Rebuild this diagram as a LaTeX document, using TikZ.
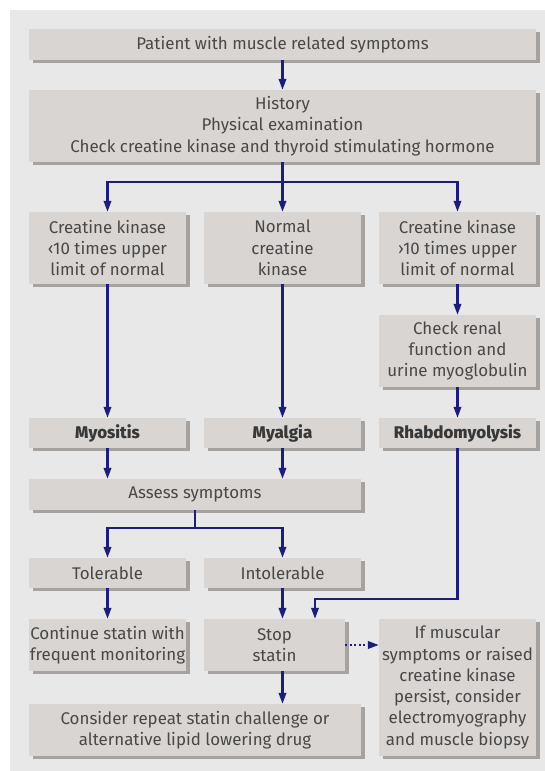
\documentclass[tikz,border=0pt]{standalone}
\usepackage{fontspec}
\setmainfont{Fira Sans}
\IfFontExistsTF{Fira Sans Heavy}{\newfontfamily\heavyfont{Fira Sans Heavy}}{%
  \IfFontExistsTF{Fira Sans ExtraBold}{\newfontfamily\heavyfont{Fira Sans ExtraBold}}{\newcommand\heavyfont{\bfseries}}}
\usetikzlibrary{arrows.meta,shadows}
\definecolor{panel}{RGB}{232,232,232}
\definecolor{boxfill}{RGB}{217,213,210}
\definecolor{shadowc}{RGB}{166,162,160}
\definecolor{navy}{RGB}{30,30,120}
\definecolor{txt}{RGB}{72,72,72}
\tikzset{
  box/.style={rectangle, fill=boxfill, inner sep=0pt, text=txt, align=center,
    font=\fontsize{16.9}{21.3}\selectfont,
    drop shadow={shadow xshift=4pt, shadow yshift=-3pt, fill=shadowc, opacity=1}},
  flow/.style={draw=navy, line width=2.1pt, -{Triangle[length=11pt,width=7.5pt]}},
  plain/.style={draw=navy, line width=2.1pt},
  dotflow/.style={draw=navy, line width=2.1pt, dash pattern=on 2pt off 2.5pt, -{Triangle[length=11pt,width=7.5pt]}},
  bold/.style={font=\fontsize{16.9}{21.3}\selectfont\heavyfont, text=black!78}
}
\begin{document}
\begin{tikzpicture}[x=1pt,y=-1pt]
\useasboundingbox (0,0) rectangle (545,771);
\fill[panel] (10,10) rectangle (545,771);
% nodes
\node[box, minimum width=507pt, minimum height=31pt] (patient) at (282.5,44.5) {Patient with muscle related symptoms};
\node[box, minimum width=507pt, minimum height=72pt] (history) at (282.5,126) {History\\Physical examination\\Check creatine kinase and thyroid stimulating hormone};
\node[box, minimum width=157pt, minimum height=72pt] (ckl) at (107.5,248) {Creatine kinase\\‹10 times upper\\limit of normal};
\node[box, minimum width=157pt, minimum height=72pt] (ckn) at (282.5,248) {Normal\\creatine\\kinase};
\node[box, minimum width=157pt, minimum height=72pt] (ckh) at (457.5,248) {Creatine kinase\\›10 times upper\\limit of normal};
\node[box, minimum width=157pt, minimum height=72pt] (renal) at (457.5,351) {Check renal\\function and\\urine myoglobulin};
\node[box, bold, minimum width=157pt, minimum height=30pt] (myositis) at (107.5,433) {Myositis};
\node[box, bold, minimum width=157pt, minimum height=30pt] (myalgia) at (282.5,433) {Myalgia};
\node[box, bold, minimum width=157pt, minimum height=30pt] (rhabdo) at (457.5,433) {Rhabdomyolysis};
\node[box, minimum width=332pt, minimum height=31pt] (assess) at (195,494.5) {Assess symptoms};
\node[box, minimum width=157pt, minimum height=30pt] (toler) at (107.5,573) {Tolerable};
\node[box, minimum width=157pt, minimum height=30pt] (intoler) at (282.5,573) {Intolerable};
\node[box, minimum width=157pt, minimum height=52pt] (continue) at (107.5,645) {Continue statin with\\frequent monitoring};
\node[box, minimum width=141pt, minimum height=52pt] (stop) at (274.5,645) {Stop\\statin};
\node[box, minimum width=157pt, minimum height=137pt] (persist) at (457.5,687.5) {If muscular\\symptoms or raised\\creatine kinase\\persist, consider\\electromyography\\and muscle biopsy};
\node[box, minimum width=332pt, minimum height=52pt] (consider) at (195,730) {Consider repeat statin challenge or\\alternative lipid lowering drug};
% coordinates
\coordinate (bus1) at (282.5,181.7);
\coordinate (bus2) at (195,528.3);
\coordinate (rcorner) at (457.5,599);
\coordinate (rentry) at (315,599);
% connectors
\draw[flow] (patient) -- (history);
\draw[plain] (history.south) -- (bus1);
\draw[flow] (bus1) -| (ckl.north);
\draw[flow] (bus1) -- (ckn.north);
\draw[flow] (bus1) -| (ckh.north);
\draw[flow] (ckl) -- (myositis);
\draw[flow] (ckn) -- (myalgia);
\draw[flow] (ckh) -- (renal);
\draw[flow] (renal) -- (rhabdo);
\draw[flow] (myositis.south) -- (myositis.south |- assess.north);
\draw[flow] (myalgia.south) -- (myalgia.south |- assess.north);
\draw[plain] (assess.south) -- (bus2);
\draw[flow] (bus2) -| (toler.north);
\draw[flow] (bus2) -| (intoler.north);
\draw[flow] (toler) -- (continue);
\draw[flow] (intoler.south) -- (intoler.south |- stop.north);
\draw[flow] (rhabdo.south) -- (rcorner) -- (rentry) -- (rentry |- stop.north);
\draw[flow] (stop.south -| intoler.south) -- (intoler.south |- consider.north);
\draw[dotflow] (stop.east) -- (persist.west |- stop.east);
\end{tikzpicture}
\end{document}
